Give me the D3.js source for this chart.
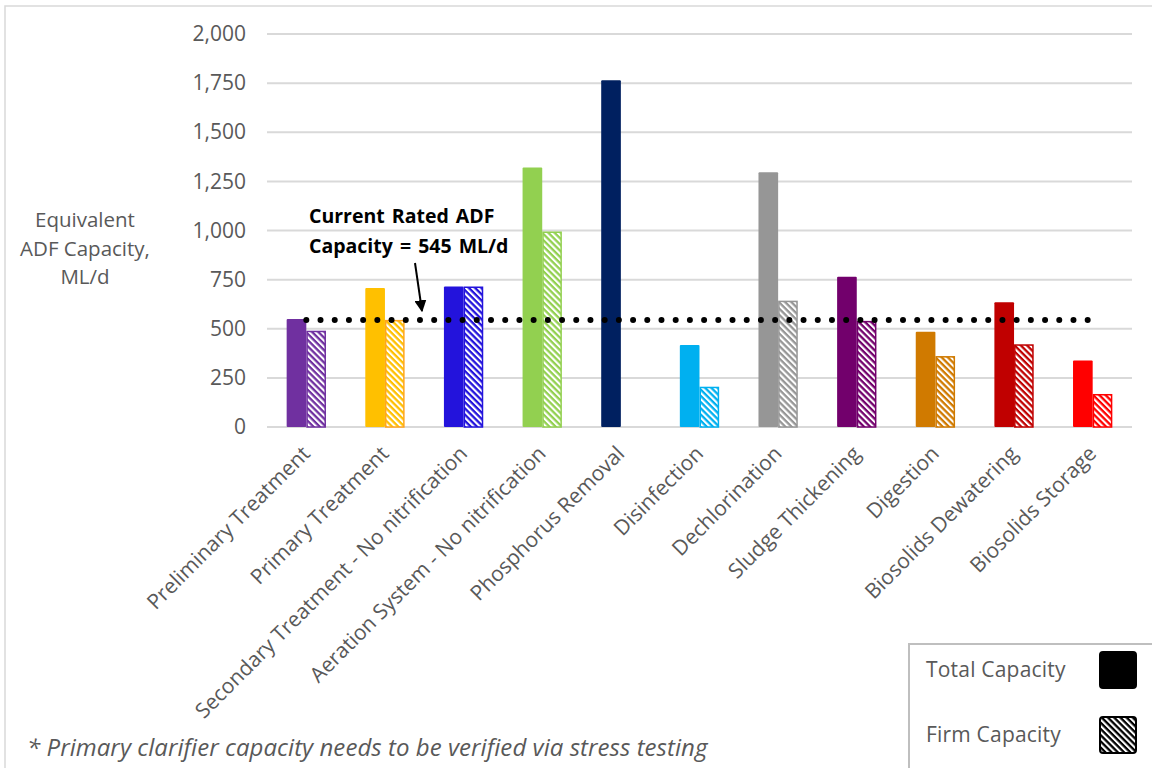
<!DOCTYPE html>
<html>
<head>
<meta charset="utf-8">
<script src="https://cdn.jsdelivr.net/npm/d3@7"></script>
<style>
  body { margin: 0; background: #fff; }
  svg { font-family: "Open Sans", sans-serif; }
</style>
</head>
<body>
<div id="chart"></div>
<script>
// data
const categories = ["Preliminary Treatment", "Primary Treatment", "Secondary Treatment - No nitrification",
  "Aeration System - No nitrification", "Phosphorus Removal", "Disinfection", "Dechlorination",
  "Sludge Thickening", "Digestion", "Biosolids Dewatering", "Biosolids Storage"];
const totalCapacity = [550, 708, 715, 1320, 1765, 417, 1296, 765, 485, 635, 339];
const firmCapacity = [490, 545, 715, 995, null, 205, 643, 540, 361, 421, 168];
const colors = ["#7030A0", "#FFC000", "#2313DC", "#92D050", "#002060", "#00B0F0", "#969696",
  "#72006C", "#D07A00", "#C00000", "#FF0000"];
const firmStroke = ["#7030A0", "#FFA51E", "#2313DC", "#92D050", "#002060", "#00B0F0", "#969696",
  "#72006C", "#D07A00", "#C00000", "#FF0000"];
const yTicks = [0, 250, 500, 750, 1000, 1250, 1500, 1750, 2000];
const ratedADF = 545;

const width = 1152, height = 768;
const svg = d3.select("#chart").append("svg")
  .attr("width", width).attr("height", height);

const defs = svg.append("defs");

// one hatch pattern per colour (white diagonal stripes)
const makeHatch = (id, color) => {
  const p = defs.append("pattern")
    .attr("id", id)
    .attr("patternUnits", "userSpaceOnUse")
    .attr("width", 4.4).attr("height", 4.4)
    .attr("patternTransform", "rotate(-45)");
  p.append("rect").attr("width", 4.4).attr("height", 4.4).attr("fill", color);
  p.append("rect").attr("width", 2.1).attr("height", 4.4).attr("fill", "#fff");
};
colors.forEach((c, i) => makeHatch("hatch" + i, c));
makeHatch("hatchLegend", "#000");

// outer frame
svg.append("rect")
  .attr("x", 5).attr("y", 6).attr("width", width + 10).attr("height", height + 10)
  .attr("fill", "none").attr("stroke", "#D9D9D9").attr("stroke-width", 1.5);

// scales
const x = d3.scaleBand()
  .domain(categories)
  .range([267, 1132])
  .paddingInner(0.5)
  .paddingOuter(0.25);

const xSeries = d3.scaleBand()
  .domain(["total", "firm"])
  .range([0, x.bandwidth()]);

const y = d3.scaleLinear()
  .domain([0, 2000])
  .range([427, 34]);

// gridlines
svg.append("g")
  .selectAll("line")
  .data(yTicks)
  .join("line")
  .attr("x1", 267).attr("x2", 1132)
  .attr("y1", d => y(d)).attr("y2", d => y(d))
  .attr("stroke", "#D9D9D9")
  .attr("stroke-width", 2);

// y axis
const yAxis = svg.append("g")
  .attr("transform", "translate(267,0)")
  .call(d3.axisLeft(y).tickValues(yTicks).tickSize(0).tickPadding(21).tickFormat(d3.format(",")));
yAxis.select(".domain").remove();
yAxis.selectAll("text")
  .attr("fill", "#595959")
  .style("font-size", "21px")
  .style("font-family", "Open Sans");

// y axis title
const yTitle = svg.append("text")
  .attr("text-anchor", "middle")
  .attr("fill", "#595959")
  .style("font-size", "20.5px");
["Equivalent", "ADF Capacity,", "ML/d"].forEach((t, i) => {
  yTitle.append("tspan").attr("x", 85).attr("y", 227 + i * 28.5).text(t);
});

// bars
const groups = svg.append("g")
  .selectAll("g")
  .data(categories)
  .join("g")
  .attr("transform", d => `translate(${x(d)},0)`);

groups.append("rect")
  .attr("x", xSeries("total"))
  .attr("width", xSeries.bandwidth())
  .attr("y", (d, i) => y(totalCapacity[i]))
  .attr("height", (d, i) => y(0) - y(totalCapacity[i]))
  .attr("rx", 1)
  .attr("fill", (d, i) => colors[i]);

groups.filter((d, i) => firmCapacity[i] != null)
  .append("rect")
  .attr("x", xSeries("firm") + 0.75)
  .attr("width", xSeries.bandwidth() - 1.5)
  .attr("y", d => y(firmCapacity[categories.indexOf(d)]) + 0.75)
  .attr("height", d => y(0) - y(firmCapacity[categories.indexOf(d)]) - 0.75)
  .attr("fill", d => `url(#hatch${categories.indexOf(d)})`)
  .attr("stroke", d => firmStroke[categories.indexOf(d)])
  .attr("stroke-width", 1.5);

// x labels
svg.append("g")
  .selectAll("text")
  .data(categories)
  .join("text")
  .attr("transform", d => `translate(${x(d) + x.bandwidth() / 2 + 5},${455}) rotate(-45)`)
  .attr("text-anchor", "end")
  .attr("fill", "#595959")
  .style("font-size", "21px")
  .text(d => d);

// rated ADF dotted line
const dotStart = x(categories[0]) + x.bandwidth() / 2;
const dotEnd = x(categories[10]) + x.bandwidth() / 2 - 5;
const dotGap = (dotEnd - dotStart) / 55;
svg.append("line")
  .attr("x1", dotStart).attr("x2", dotEnd + 0.5)
  .attr("y1", y(ratedADF)).attr("y2", y(ratedADF))
  .attr("stroke", "#000")
  .attr("stroke-width", 6)
  .attr("stroke-linecap", "round")
  .attr("stroke-dasharray", `0 ${dotGap}`);

// annotation
const note = svg.append("text")
  .attr("fill", "#000")
  .style("font-size", "19.5px")
  .style("font-weight", "bold")
  .style("word-spacing", "2px");
note.append("tspan").attr("x", 309).attr("y", 223).text("Current Rated ADF");
note.append("tspan").attr("x", 309).attr("y", 253).text("Capacity = 545 ML/d");

defs.append("marker")
  .attr("id", "arrow")
  .attr("viewBox", "0 0 10 10")
  .attr("refX", 9).attr("refY", 5)
  .attr("markerWidth", 6).attr("markerHeight", 6)
  .attr("orient", "auto")
  .append("path")
  .attr("d", "M0,0 L10,5 L0,10 z")
  .attr("fill", "#000");

svg.append("line")
  .attr("x1", 415).attr("y1", 263)
  .attr("x2", 422).attr("y2", 311)
  .attr("stroke", "#000")
  .attr("stroke-width", 2)
  .attr("marker-end", "url(#arrow)");

// footnote
svg.append("text")
  .attr("x", 27).attr("y", 756)
  .attr("fill", "#595959")
  .style("font-size", "24px")
  .style("font-style", "italic")
  .style("letter-spacing", "0.05px")
  .text("* Primary clarifier capacity needs to be verified via stress testing");

// legend
const legend = svg.append("g");
legend.append("rect")
  .attr("x", 909).attr("y", 644)
  .attr("width", 260).attr("height", 140)
  .attr("fill", "#fff")
  .attr("stroke", "#BFBFBF")
  .attr("stroke-width", 2);

const legendItems = [
  { label: "Total Capacity", fill: "#000", y: 652 },
  { label: "Firm Capacity", fill: "url(#hatchLegend)", y: 717 }
];
legend.selectAll("text")
  .data(legendItems)
  .join("text")
  .attr("x", 926)
  .attr("y", d => d.y + 25)
  .attr("fill", "#595959")
  .style("font-size", "21px")
  .style("letter-spacing", "0.2px")
  .text(d => d.label);

legend.selectAll("rect.swatch")
  .data(legendItems)
  .join("rect")
  .attr("class", "swatch")
  .attr("x", 1100).attr("y", d => d.y)
  .attr("width", 36).attr("height", 36)
  .attr("rx", 3)
  .attr("fill", d => d.fill)
  .attr("stroke", "#000")
  .attr("stroke-width", 2);
</script>
</body>
</html>
